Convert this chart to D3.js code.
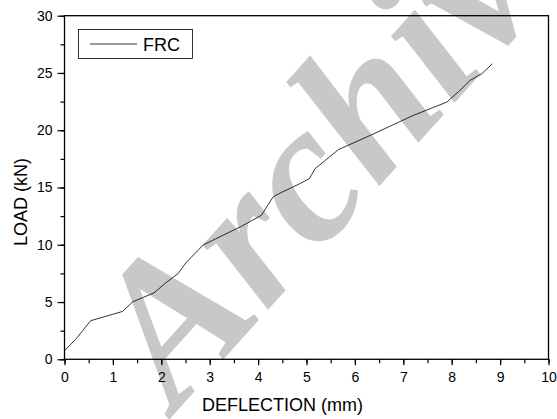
<!DOCTYPE html>
<html>
<head>
<meta charset="utf-8">
<script src="https://cdn.jsdelivr.net/npm/d3@7"></script>
<style>
  body { margin: 0; background: #fff; }
  text { font-family: "Liberation Sans", Arial, sans-serif; }
</style>
</head>
<body>
<div id="chart"></div>
<script>
// data
const deflection = [0.01, 0.23, 0.54, 1.2, 1.41, 1.85, 2.1, 2.35, 2.51, 2.87, 3.66, 4.07, 4.31, 4.45, 4.87, 5.06, 5.18, 5.66, 6.24, 7.21, 7.9, 8.17, 8.38, 8.62, 8.84];
const load = [0.8, 1.74, 3.37, 4.18, 5.02, 5.8, 6.7, 7.5, 8.43, 10.0, 11.62, 12.58, 14.18, 14.5, 15.35, 15.78, 16.65, 18.31, 19.4, 21.3, 22.46, 23.48, 24.35, 24.93, 25.8];
const xTicks = [0, 1, 2, 3, 4, 5, 6, 7, 8, 9, 10];
const yTicks = [0, 5, 10, 15, 20, 25, 30];
const seriesName = "FRC";

const width = 557, height = 419;
const mLeft = 64.5, mRight = 548.5, mTop = 15.7, mBottom = 359.3;

const svg = d3.select('#chart').append('svg')
  .attr('width', width)
  .attr('height', height);

const x = d3.scaleLinear().domain([0, 10]).range([mLeft, mRight]);
const y = d3.scaleLinear().domain([0, 30]).range([mBottom, mTop]);

// watermark
svg.append('text')
  .attr('transform', 'translate(176,412) rotate(-48)')
  .attr('text-anchor', 'start')
  .style('font-family', '"Liberation Serif", "Times New Roman", serif')
  .style('font-weight', 'bold')
  .style('font-style', 'italic')
  .style('font-size', '200px')
  .attr('fill', '#c8c8c8')
  .text('Archive');

// frame
svg.append('rect')
  .attr('x', mLeft).attr('y', mTop)
  .attr('width', mRight - mLeft).attr('height', mBottom - mTop)
  .attr('fill', 'none')
  .attr('stroke', '#000')
  .attr('stroke-width', 1.3);

// x axis
svg.append('g').attr('transform', `translate(0,${mBottom})`)
  .call(d3.axisBottom(x).tickValues(d3.range(0, 10.01, 0.5)).tickSize(4).tickFormat(''))
  .call(g => g.select('.domain').remove());
const xMajor = svg.append('g').attr('transform', `translate(0,${mBottom})`)
  .call(d3.axisBottom(x).tickValues(xTicks).tickSize(6).tickPadding(7).tickFormat(d3.format('d')))
  .call(g => g.select('.domain').remove());
xMajor.selectAll('text').style('font-size', '14px').attr('fill', '#000');

// y axis
svg.append('g').attr('transform', `translate(${mLeft},0)`)
  .call(d3.axisLeft(y).tickValues(d3.range(0, 30.01, 2.5)).tickSize(4).tickFormat(''))
  .call(g => g.select('.domain').remove());
const yMajor = svg.append('g').attr('transform', `translate(${mLeft},0)`)
  .call(d3.axisLeft(y).tickValues(yTicks).tickSize(7).tickPadding(5).tickFormat(d3.format('d')))
  .call(g => g.select('.domain').remove());
yMajor.selectAll('text').style('font-size', '14px').attr('fill', '#000');
svg.selectAll('g line').attr('stroke-width', 1.2);

// axis titles
svg.append('text')
  .attr('x', 282.5)
  .attr('y', 411)
  .attr('text-anchor', 'middle')
  .style('font-size', '18px')
  .text('DEFLECTION (mm)');

svg.append('text')
  .attr('transform', 'translate(27,202) rotate(-90)')
  .attr('text-anchor', 'middle')
  .style('font-size', '18px')
  .text('LOAD (kN)');

// series line
const pts = deflection.map((d, i) => [d, load[i]]);
svg.append('path')
  .datum(pts)
  .attr('fill', 'none')
  .attr('stroke', '#000')
  .attr('stroke-width', 0.8)
  .attr('d', d3.line().x(d => x(d[0])).y(d => y(d[1])));

// legend
const lg = svg.append('g');
lg.append('rect')
  .attr('x', 78.5).attr('y', 29.5)
  .attr('width', 114).attr('height', 29)
  .attr('fill', '#fff')
  .attr('stroke', '#000')
  .attr('stroke-width', 0.8);
lg.append('line')
  .attr('x1', 90).attr('x2', 137)
  .attr('y1', 44).attr('y2', 44)
  .attr('stroke', '#000')
  .attr('stroke-width', 0.8);
lg.append('text')
  .attr('x', 143).attr('y', 51)
  .style('font-size', '18px')
  .text(seriesName);
</script>
</body>
</html>
